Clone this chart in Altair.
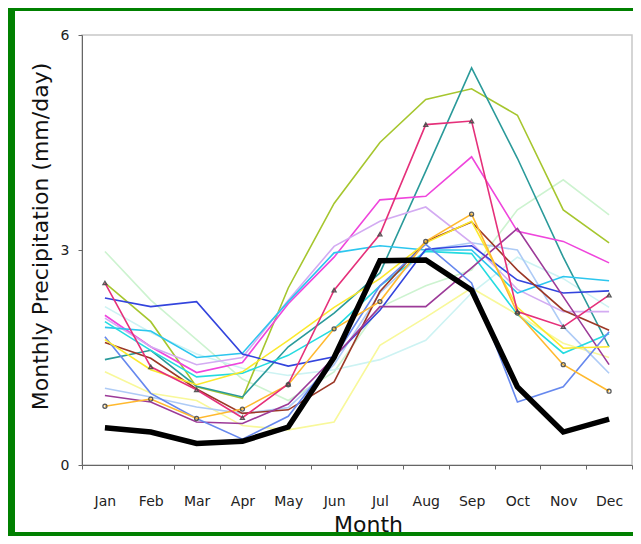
import altair as alt
import pandas as pd

months = ["Jan", "Feb", "Mar", "Apr", "May", "Jun", "Jul", "Aug", "Sep", "Oct", "Nov", "Dec"]

yellowgreen = [2.54, 2.0, 1.09, 0.93, 2.47, 3.65, 4.5, 5.1, 5.25, 4.88, 3.56, 3.1]
teal = [1.47, 1.6, 1.1, 0.95, 1.65, 2.12, 2.68, 4.1, 5.54, 4.28, 2.9, 1.65]
crimson = [2.54, 1.37, 1.05, 0.66, 1.13, 2.44, 3.22, 4.75, 4.8, 2.14, 1.93, 2.37]
magenta = [2.09, 1.65, 1.29, 1.43, 2.25, 2.9, 3.7, 3.75, 4.3, 3.26, 3.12, 2.82]
lavender = [2.05, 1.65, 1.4, 1.5, 2.3, 3.05, 3.4, 3.6, 3.1, 2.45, 2.14, 2.14]
cyan = [1.92, 1.87, 1.5, 1.56, 2.28, 2.96, 3.06, 3.0, 3.0, 2.4, 2.63, 2.57]
aqua = [2.0, 1.6, 1.23, 1.28, 1.53, 1.9, 2.5, 2.98, 2.95, 2.1, 1.56, 1.83]
blue = [2.33, 2.21, 2.28, 1.55, 1.38, 1.51, 2.16, 3.01, 3.06, 2.58, 2.4, 2.43]
brown = [1.71, 1.49, 1.06, 0.72, 0.77, 1.16, 2.42, 3.12, 3.39, 2.72, 2.16, 1.88]
gold = [0.82, 0.92, 0.65, 0.78, 1.12, 1.9, 2.28, 3.12, 3.5, 2.12, 1.4, 1.03]
purple = [0.97, 0.88, 0.6, 0.58, 0.85, 1.5, 2.21, 2.21, 2.75, 3.3, 2.35, 1.4]
cornflower = [1.79, 1.0, 0.65, 0.36, 0.68, 1.5, 2.5, 3.08, 2.54, 0.88, 1.09, 1.86]
yellow = [1.75, 1.33, 1.12, 1.3, 1.74, 2.2, 2.6, 3.1, 3.4, 2.2, 1.63, 1.65]
skyblue = [1.07, 0.95, 0.81, 0.72, 0.8, 1.4, 2.4, 3.0, 3.1, 3.0, 1.93, 1.28]
mint = [2.98, 2.3, 1.75, 1.2, 0.9, 1.3, 2.2, 2.5, 2.72, 3.56, 3.98, 3.49]
palecyan = [2.21, 1.85, 1.55, 1.35, 1.25, 1.33, 1.47, 1.74, 2.4, 2.9, 2.6, 2.2]
paleyellow = [1.3, 1.0, 0.9, 0.55, 0.49, 0.6, 1.67, 2.06, 2.47, 2.1, 1.7, 1.5]
observed = [0.52, 0.46, 0.30, 0.33, 0.53, 1.5, 2.85, 2.86, 2.44, 1.09, 0.46, 0.64]

series = {
    "mint": (mint, "#cdf3d0"),
    "palecyan": (palecyan, "#cdf3f3"),
    "paleyellow": (paleyellow, "#f8f89a"),
    "skyblue": (skyblue, "#aecbf6"),
    "yellowgreen": (yellowgreen, "#a6c62e"),
    "teal": (teal, "#2a9a9a"),
    "magenta": (magenta, "#ef45dc"),
    "lavender": (lavender, "#d3abf2"),
    "cyan": (cyan, "#2cc6ee"),
    "aqua": (aqua, "#25dbe0"),
    "blue": (blue, "#3344dd"),
    "brown": (brown, "#9c3826"),
    "purple": (purple, "#9c3a98"),
    "cornflower": (cornflower, "#6688ee"),
    "yellow": (yellow, "#fbe92c"),
    "gold": (gold, "#ffb92e"),
    "crimson": (crimson, "#e5307a"),
}

rows = []
for name, (vals, _) in series.items():
    for i, (m, v) in enumerate(zip(months, vals)):
        rows.append({"month": m, "value": v, "series": name, "idx": i})
df = pd.DataFrame(rows)
obs_df = pd.DataFrame({"month": months, "value": observed})

marker_rows = []
for m, v in zip(months, crimson):
    marker_rows.append({"month": m, "value": v, "kind": "tri"})
for m, v in zip(months, gold):
    marker_rows.append({"month": m, "value": v, "kind": "dot"})
mk_df = pd.DataFrame(marker_rows)

FONT = "DejaVu Sans"

x_enc = alt.X(
    "month:N",
    sort=months,
    bandPosition=0.5,
    scale=alt.Scale(type="band", paddingInner=0, paddingOuter=0),
    axis=alt.Axis(
        title="Month",
        labelAngle=0,
        tickBand="extent",
        tickSize=4,
        labelPadding=25,
        domainColor="#666666",
        tickColor="#666666",
        labelColor="#222222",
        labelFontSize=14,
        labelFont=FONT,
        titleFont=FONT,
        titleFontSize=22,
        titleFontWeight="normal",
        titleColor="#111111",
        titleX=286,
        titleY=66,
        titleBaseline="alphabetic",
        grid=False,
    ),
)
y_enc = alt.Y(
    "value:Q",
    scale=alt.Scale(domain=[0, 6], nice=False),
    axis=alt.Axis(
        title="Monthly Precipitation (mm/day)",
        values=[0, 3, 6],
        format="d",
        tickSize=4,
        labelPadding=9,
        domainColor="#666666",
        tickColor="#666666",
        labelColor="#222222",
        labelFontSize=14,
        labelFont=FONT,
        titleFont=FONT,
        titleFontSize=22,
        titleFontWeight="normal",
        titleColor="#111111",
        titleAngle=270,
        titleX=-42,
        titleY=201,
        titleAlign="center",
        titleBaseline="middle",
        grid=False,
    ),
)

# green border strips (decoration only), inside the SVG bounds
border_df = pd.DataFrame({"a": [0]})
left_strip = alt.Chart(border_df).mark_rect(color="#008000").encode(
    x=alt.value(-74), x2=alt.value(-67), y=alt.value(-27), y2=alt.value(501)
)
top_strip = alt.Chart(border_df).mark_rect(color="#008000").encode(
    x=alt.value(-74), x2=alt.value(551), y=alt.value(-27), y2=alt.value(-24)
)
bottom_strip = alt.Chart(border_df).mark_rect(color="#008000").encode(
    x=alt.value(-74), x2=alt.value(551), y=alt.value(497), y2=alt.value(501)
)

lines = alt.Chart(df).mark_line(strokeWidth=1.6).encode(
    x=x_enc,
    y=y_enc,
    color=alt.Color(
        "series:N",
        scale=alt.Scale(domain=list(series.keys()), range=[c for _, c in series.values()]),
        legend=None,
    ),
    order=alt.Order("idx:Q"),
)

markers = alt.Chart(mk_df).mark_point(
    filled=False, size=16, strokeWidth=1.3, color="#4a4a4a", opacity=0.9
).encode(
    x=alt.X("month:N", sort=months, bandPosition=0.5),
    y="value:Q",
    shape=alt.Shape(
        "kind:N",
        scale=alt.Scale(domain=["tri", "dot"], range=["triangle-up", "circle"]),
        legend=None,
    ),
)

obs = alt.Chart(obs_df).mark_line(strokeWidth=5.5, color="#000000", strokeJoin="miter").encode(
    x=alt.X("month:N", sort=months, bandPosition=0.5),
    y="value:Q",
)

chart = alt.layer(left_strip, top_strip, bottom_strip, lines, markers, obs).properties(
    width=550,
    height=430,
    autosize=alt.AutoSizeParams(type="none"),
    padding={"left": 74, "top": 27, "right": 1, "bottom": 71},
    background="white",
).configure_view(stroke="#c8c8c8", strokeWidth=1.5)

chart.save("out.html", embed_options={"renderer": "svg", "actions": False})
